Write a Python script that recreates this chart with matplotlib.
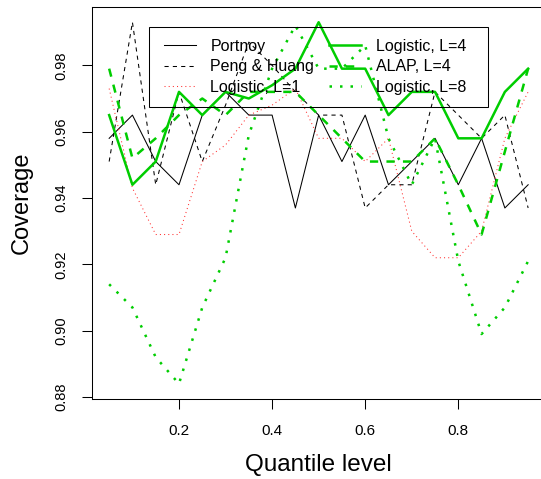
import matplotlib
matplotlib.use("Agg")
import matplotlib.pyplot as plt
from matplotlib.patches import Rectangle
import numpy as np

plt.rcParams['font.family'] = ['Liberation Sans', 'DejaVu Sans']

quantiles = [0.05, 0.10, 0.15, 0.20, 0.25, 0.30, 0.35, 0.40, 0.45, 0.50,
             0.55, 0.60, 0.65, 0.70, 0.75, 0.80, 0.85, 0.90, 0.95]

portnoy = [0.958, 0.965, 0.951, 0.944, 0.965, 0.972, 0.965, 0.965, 0.937, 0.965,
           0.951, 0.965, 0.944, 0.951, 0.958, 0.944, 0.958, 0.937, 0.944]
peng_huang = [0.951, 0.993, 0.944, 0.972, 0.951, 0.968, 0.987, 0.980, 0.972, 0.965,
              0.965, 0.937, 0.944, 0.944, 0.972, 0.965, 0.958, 0.965, 0.937]
logistic_l1 = [0.973, 0.943, 0.929, 0.929, 0.951, 0.956, 0.965, 0.968, 0.973, 0.958,
               0.958, 0.951, 0.958, 0.930, 0.922, 0.922, 0.930, 0.958, 0.972]
logistic_l4 = [0.965, 0.944, 0.951, 0.972, 0.965, 0.972, 0.970, 0.974, 0.979, 0.993,
               0.979, 0.979, 0.965, 0.972, 0.972, 0.958, 0.958, 0.972, 0.979]
alap_l4 = [0.979, 0.952, 0.958, 0.965, 0.970, 0.965, 0.972, 0.972, 0.972, 0.965,
           0.958, 0.951, 0.951, 0.951, 0.958, 0.944, 0.929, 0.954, 0.979]
logistic_l8 = [0.914, 0.907, 0.892, 0.884, 0.907, 0.922, 0.959, 0.979, 0.992, 0.979,
               0.979, 0.986, 0.958, 0.944, 0.958, 0.921, 0.899, 0.907, 0.921]

labels = ["Portnoy", "Peng & Huang", "Logistic, L=1",
          "Logistic, L=4", "ALAP, L=4", "Logistic, L=8"]

W, H = 541, 479
fig = plt.figure(figsize=(W / 100, H / 100), dpi=100)
L, R, T, B = 92.4, 544.9, 7.3, 398.7
ax = fig.add_axes([L / W, 1 - B / H, (R - L) / W, (B - T) / H])

green = '#00CD00'
thin = 0.75
thick = 1.8
l1, = ax.plot(quantiles, portnoy, color='black', lw=thin, ls='-')
l2, = ax.plot(quantiles, peng_huang, color='black', lw=thin, ls=(0, (4, 4)))
l3, = ax.plot(quantiles, logistic_l1, color='#FF3030', lw=thin, ls=(0, (1, 3)))
l4, = ax.plot(quantiles, logistic_l4, color=green, lw=thick, ls='-')
l5, = ax.plot(quantiles, alap_l4, color=green, lw=thick, ls=(0, (3.3, 3.3)))
l6, = ax.plot(quantiles, logistic_l8, color=green, lw=thick, ls=(0, (1, 3.2)))

ax.set_xlim(0.014, 0.986)
ax.set_ylim(0.8795, 0.9975)
ax.set_xticks([0.2, 0.4, 0.6, 0.8])
ax.set_xticklabels(["0.2", "0.4", "0.6", "0.8"])
yt = [0.88, 0.90, 0.92, 0.94, 0.96, 0.98]
ax.set_yticks(yt)
ax.set_yticklabels(["%.2f" % v for v in yt], rotation=90, va='center')
ax.tick_params(axis='both', direction='out', length=7.2, width=0.75, colors='black')
ax.tick_params(axis='x', labelsize=11, pad=11)
ax.tick_params(axis='y', labelsize=10.5, pad=10)
for s in ax.spines.values():
    s.set_linewidth(0.75)

fig.text(318.6 / W, 1 - 465 / H, "Quantile level", ha='center', va='center', fontsize=17.5)
fig.text(22 / W, 1 - 203 / H, "Coverage", ha='center', va='center', rotation=90, fontsize=17)

fs = 11.5
leg = ax.legend([l1, l2, l3, l4, l5, l6], labels, ncol=2, loc='upper left',
                bbox_to_anchor=(164 / W, 1 - 38.5 / H), bbox_transform=fig.transFigure,
                frameon=False, fontsize=fs, borderpad=0, borderaxespad=0,
                handlelength=2.0, handletextpad=0.9, columnspacing=0.95,
                labelspacing=0.36)
fig.add_artist(Rectangle((149.3 / W, 1 - 107.3 / H), (488.3 - 149.3) / W, 80 / H,
                         transform=fig.transFigure, fill=False, lw=0.75, ec='black'))

fig.savefig("out.png", dpi=100)
